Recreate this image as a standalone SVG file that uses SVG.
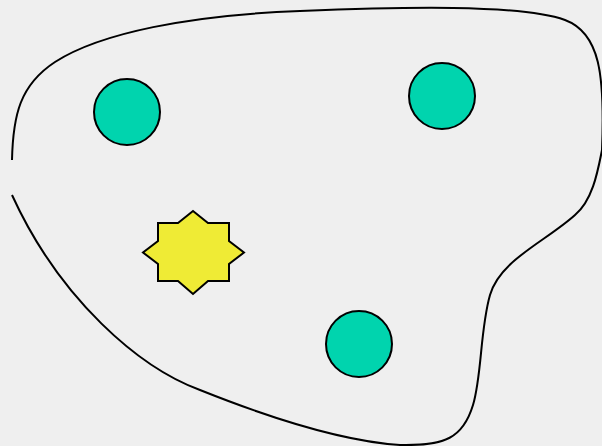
<svg xmlns="http://www.w3.org/2000/svg" width="602" height="446" viewBox="0 0 602 446">
<style>
.c{fill:#00d4ae;stroke:#000;stroke-width:2}
.b{fill:none;stroke:#000;stroke-width:2}
</style>
<rect width="602" height="446" fill="#efefef"/>
<g id="boundary">
<path class="b" d="M 12,160 C 13,115 20,85 55,62 C 100,33 190,15 300,11 C 400,7 520,4 565,20 C 600,33 605,75 602,150 C 598,170 593,200 575,215 C 545,242 500,260 490,295 C 480,330 482,375 473,405 C 463,438 445,446 400,445 C 340,441 265,416 200,390 C 140,368 60,300 12,195"/>
</g>
<g id="node1"><circle class="c" cx="127" cy="112" r="33"/></g>
<g id="node2"><circle class="c" cx="442" cy="96" r="33"/></g>
<g id="node3"><circle class="c" cx="359" cy="344" r="33"/></g>
<g id="star"><polygon points="193,211 208,223 229,223 229,241 244,252.5 229,264 229,281 208,281 193,294 178,281 158,281 158,264 143,252.5 158,241 158,223 178,223" fill="#efeb35" stroke="#000" stroke-width="2"/></g>
</svg>
